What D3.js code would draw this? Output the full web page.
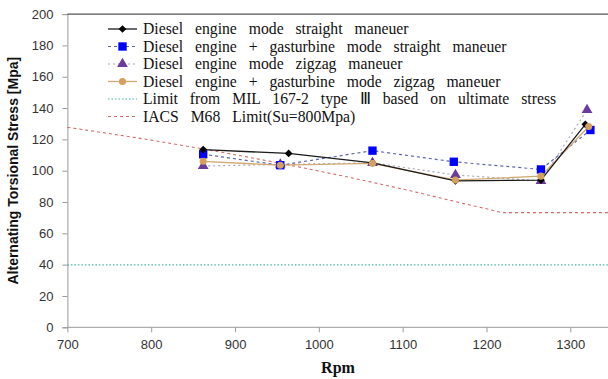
<!DOCTYPE html>
<html><head><meta charset="utf-8">
<script src="https://cdn.jsdelivr.net/npm/d3@7"></script>
<style>body{margin:0;background:#fff}svg{display:block}</style>
</head><body>
<svg id="c" width="608" height="379"></svg>
<script>
const xTicks = [700, 800, 900, 1000, 1100, 1200, 1300];
const yTicks = [0, 20, 40, 60, 80, 100, 120, 140, 160, 180, 200];

const rpmDS = [862, 964, 1064, 1163, 1265, 1318];
const stressDS = [113.5, 111, 105, 93.5, 94, 129.6];
const rpmGS = [862, 954, 1064, 1161, 1265, 1324];
const stressGS = [110.5, 103.5, 112.8, 105.7, 100.8, 126];
const rpmDZ = [862, 954, 1064, 1163, 1265, 1320];
const stressDZ = [103, 104, 105, 97.3, 93.5, 138.8];
const rpmGZ = [862, 954, 1064, 1163, 1265, 1322];
const stressGZ = [106, 103.5, 104.7, 94, 96.5, 128.2];
const rpmMIL = [700, 1345];
const stressMIL = [39.8, 39.8];
const rpmIACS = [700, 800, 900, 1000, 1100, 1200, 1222, 1345];
const stressIACS = [127.7, 119.5, 110.2, 99.8, 88.3, 75.7, 73.2, 73.2];

const seriesNames = [
  "Diesel engine mode straight maneuer",
  "Diesel engine + gasturbine mode straight maneuer",
  "Diesel engine mode zigzag maneuer",
  "Diesel engine + gasturbine mode zigzag maneuer",
  "Limit from MIL 167-2 type Ⅲ based on ultimate stress",
  "IACS M68 Limit(Su=800Mpa)"
];

const svg = d3.select("#c");
const x = d3.scaleLinear().domain([700, 1345]).range([67.4, 608]);
const y = d3.scaleLinear().domain([0, 200]).range([327.3, 14.1]);

// axes
const gx = svg.append("g").attr("transform", `translate(0,${y(0)})`)
  .call(d3.axisBottom(x).tickValues(xTicks).tickSize(5).tickPadding(7).tickFormat(d3.format("d")));
gx.select(".domain").attr("stroke", "#9a9a9a").attr("d", `M${x(700)},0H608`);
gx.selectAll(".tick line").attr("stroke", "#9a9a9a");
gx.selectAll("text").attr("font-family", "Arial, 'Liberation Sans', sans-serif").attr("font-size", 13).attr("fill", "#333");

const gy = svg.append("g").attr("transform", `translate(${x(700)},0)`)
  .call(d3.axisLeft(y).tickValues(yTicks).tickSize(5).tickPadding(9));
gy.select(".domain").attr("stroke", "#9a9a9a");
gy.selectAll(".tick line").attr("stroke", "#9a9a9a");
gy.selectAll("text").attr("font-family", "Arial, 'Liberation Sans', sans-serif").attr("font-size", 13).attr("fill", "#333");

// top border
svg.append("line").attr("x1", x(700)).attr("x2", 608).attr("y1", y(200)).attr("y2", y(200))
  .attr("stroke", "#555").attr("stroke-width", 1.2);

// titles
svg.append("text").attr("transform", `translate(18,${(y(0)+y(200))/2}) rotate(-90)`)
  .attr("text-anchor", "middle").attr("font-family", "Arial, 'Liberation Sans', sans-serif")
  .attr("font-weight", "bold").attr("font-size", 14).attr("fill", "#111")
  .text("Alternating Torsional Stress [Mpa]");
svg.append("text").attr("x", 338).attr("y", 373).attr("text-anchor", "middle")
  .attr("font-family", "'Liberation Serif', 'Times New Roman', serif").attr("font-weight", "bold")
  .attr("font-size", 16).attr("fill", "#111").text("Rpm");

const line = d3.line().x(d => x(d[0])).y(d => y(d[1]));
const zipP = (a, b) => a.map((v, i) => [v, b[i]]);

const styles = [
  {stroke: "#1a1a1a", dash: null, w: 1.3, sym: d3.symbolSquare, size: 30, rot: 45, fill: "#000"},
  {stroke: "#5a66b4", dash: "3,3", w: 1.2, sym: d3.symbolSquare, size: 70, rot: 0, fill: "#0000ff"},
  {stroke: "#a8a8b8", dash: "2,3", w: 1.2, sym: d3.symbolTriangle, size: 50, rot: 0, fill: "#6a3a9c"},
  {stroke: "#d0a870", dash: null, w: 1.3, sym: d3.symbolCircle, size: 40, rot: 0, fill: "#d4a060"},
  {stroke: "#49b8a4", dash: "1.5,2", w: 1.2},
  {stroke: "#d46a6a", dash: "3,3", w: 1.1}
];

const data = [
  zipP(rpmDS, stressDS), zipP(rpmGS, stressGS), zipP(rpmDZ, stressDZ),
  zipP(rpmGZ, stressGZ), zipP(rpmMIL, stressMIL), zipP(rpmIACS, stressIACS)
];

// limit lines first
svg.append("path").datum(data[5]).attr("d", d3.line().x(d => x(d[0])).y(d => y(d[1])).curve(d3.curveMonotoneX))
  .attr("fill", "none").attr("stroke", styles[5].stroke).attr("stroke-width", styles[5].w)
  .attr("stroke-dasharray", styles[5].dash);
svg.append("path").datum(data[4]).attr("d", line)
  .attr("fill", "none").attr("stroke", styles[4].stroke).attr("stroke-width", styles[4].w)
  .attr("stroke-dasharray", styles[4].dash);

[2, 1, 3, 0].forEach(i => {
  const s = styles[i];
  svg.append("path").datum(data[i]).attr("d", line)
    .attr("fill", "none").attr("stroke", s.stroke).attr("stroke-width", s.w)
    .attr("stroke-dasharray", s.dash);
});
[2, 1, 0, 3].forEach(i => {
  const s = styles[i];
  svg.append("g").selectAll("path").data(data[i]).join("path")
    .attr("transform", d => `translate(${x(d[0])},${y(d[1])}) rotate(${s.rot})`)
    .attr("d", d3.symbol().type(s.sym).size(s.size)).attr("fill", s.fill);
});

// legend
const rowY = [29, 46.5, 64, 81.5, 99, 116.5];
const lg = svg.append("g");
seriesNames.forEach((name, i) => {
  const s = styles[i];
  const cy = rowY[i];
  lg.append("line").attr("x1", 108).attr("x2", 137).attr("y1", cy).attr("y2", cy)
    .attr("stroke", s.stroke).attr("stroke-width", s.w).attr("stroke-dasharray", s.dash);
  if (s.sym) {
    lg.append("path").attr("transform", `translate(122.5,${cy}) rotate(${s.rot})`)
      .attr("d", d3.symbol().type(s.sym).size(s.size)).attr("fill", s.fill);
  }
  lg.append("text").attr("x", 143).attr("y", cy + 5)
    .attr("font-family", "'Liberation Serif', 'Times New Roman', serif")
    .attr("font-size", 15.7).attr("word-spacing", 8).attr("fill", "#111").text(name);
});
</script>
</body></html>
